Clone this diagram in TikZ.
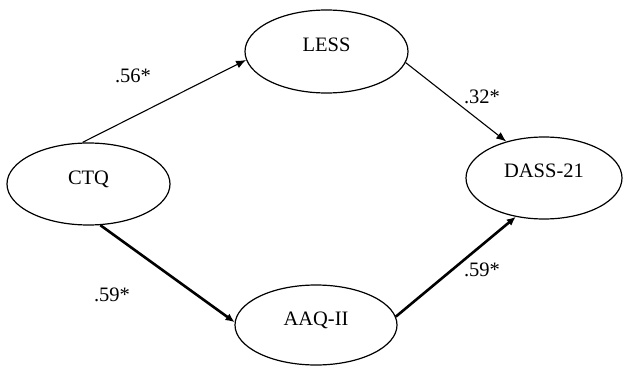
\documentclass[tikz,border=0pt]{standalone}
\usepackage{fontspec}
\setmainfont{Liberation Serif}
\usetikzlibrary{shapes.geometric,arrows.meta}

\begin{document}
\begin{tikzpicture}[x=1pt,y=-1pt,
  font=\fontsize{20.5}{24}\selectfont,
  construct/.style={draw, ellipse, line width=1.2pt, inner sep=0pt,
    text height=10pt, text depth=10pt},
  path/.style={line width=1.1pt, -{Latex[length=10pt,width=8pt]}},
  strongpath/.style={line width=2.6pt, -{Latex[length=9pt,width=8pt]}},
  coef/.style={inner sep=0pt}]
  \useasboundingbox (0,0) rectangle (623,366);

  % latent constructs
  \node[construct, minimum width=163pt, minimum height=82pt] (ctq)  at (88.5,184) {CTQ};
  \node[construct, minimum width=163pt, minimum height=83pt] (less) at (326.5,51.5) {LESS};
  \node[construct, minimum width=156pt, minimum height=82pt] (dass) at (544,178) {DASS-21};
  \node[construct, minimum width=162pt, minimum height=80pt] (aaq)  at (316,325) {AAQ-II};

  % structural paths
  \draw[path] ([xshift=-6pt]ctq.north) -- (less.186);
  \draw[path] (less.-8) -- (dass.136);
  \draw[strongpath] (ctq.-74) -- (aaq.178);
  \draw[strongpath] (aaq.6) -- (dass.234);

  % standardized coefficients
  \node[coef] (c1) at (133,76)  {.56*};
  \node[coef] (c2) at (482,97)  {.32*};
  \node[coef] (c3) at (112,295) {.59*};
  \node[coef] (c4) at (482,270) {.59*};
\end{tikzpicture}
\end{document}
